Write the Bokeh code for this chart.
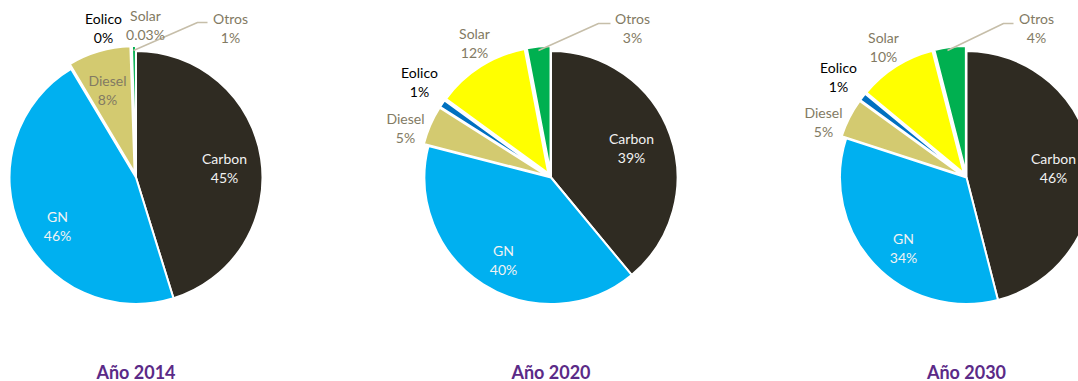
import numpy as np
from bokeh.plotting import figure
from bokeh.models import Range1d, ColumnDataSource
from bokeh.core.properties import value
from bokeh.embed import file_html
from bokeh.resources import INLINE

W, H = 1078, 381

# ---------------- data ----------------
categories = ["Carbon", "GN", "Diesel", "Eolico", "Solar", "Otros"]
years = ["Año 2014", "Año 2020", "Año 2030"]
share_2014 = [45, 46, 8, 0.0, 0.03, 0.5]
share_2020 = [39, 40, 5, 1, 12, 3]
share_2030 = [46, 34, 5, 1, 10, 4]
pct_2014 = ["45%", "46%", "8%", "0%", "0.03%", "1%"]
pct_2020 = ["39%", "40%", "5%", "1%", "12%", "3%"]
pct_2030 = ["46%", "34%", "5%", "1%", "10%", "4%"]

# ---------------- style ----------------
colors = ["#2f2b22", "#00b0f0", "#d3ca70", "#0070c0", "#ffff00", "#00b050"]
label_colors = ["#f2f2f2", "#f2f2f2", "#827a63", "#000000", "#827a63", "#827a63"]
exploded = [0, 0, 1, 1, 1, 1]
explode_px = 5
radius = 126.5
centers_px = [(135.5, 177), (550.5, 177), (966, 177)]
# label name positions (pixels, y down); percentage sits one line below
label_pos_px = [
    [(224, 158), (57, 216), (107, 80), (103, 18), (145, 15), (230, 18)],
    [(631, 138), (503, 250), (405, 118), (419, 72), (474, 33), (632, 18)],
    [(1053, 158), (903, 238), (823, 112), (838, 67), (883, 37), (1036, 18)],
]
leader_px = [
    [(133, 50), (197, 22), (207, 22)],
    [(538, 50), (598, 23), (610, 23)],
    [(947, 50), (1003, 23), (1013, 23)],
]
line_gap = 19
FONT = "Lato"

p = figure(width=W, height=H, x_range=Range1d(0, W), y_range=Range1d(0, H),
           output_backend="svg", toolbar_location=None, min_border=0,
           min_border_left=0, min_border_right=0, min_border_top=0, min_border_bottom=0)
p.axis.visible = False
p.grid.visible = False
p.outline_line_color = None
p.background_fill_color = "white"
p.border_fill_color = "white"

shares = [share_2014, share_2020, share_2030]
pcts = [pct_2014, pct_2020, pct_2030]

for k in range(3):
    vals = np.array(shares[k], dtype=float)
    frac = vals / vals.sum()
    c1 = np.cumsum(frac)
    c0 = c1 - frac
    start = np.pi / 2 - 2 * np.pi * c1
    end = np.pi / 2 - 2 * np.pi * c0
    mid = (start + end) / 2
    cx, cy_px = centers_px[k]
    cy = H - cy_px
    xs = cx + explode_px * np.array(exploded) * np.cos(mid)
    ys = cy + explode_px * np.array(exploded) * np.sin(mid)
    keep = frac > 0
    src = ColumnDataSource(dict(x=xs[keep], y=ys[keep], start=start[keep], end=end[keep],
                                color=[c for c, kk in zip(colors, keep) if kk]))
    p.wedge(x="x", y="y", radius=radius, start_angle="start", end_angle="end",
            direction="anticlock", fill_color="color", line_color="white",
            line_width=2, source=src)

    # leader line for "Otros"
    lx = [pt[0] for pt in leader_px[k]]
    ly = [H - pt[1] for pt in leader_px[k]]
    p.line(lx, ly, line_color="#c6bea9", line_width=1.5)

    pos = label_pos_px[k]
    tsrc = ColumnDataSource(dict(
        x=[q[0] for q in pos],
        y=[H - q[1] for q in pos],
        y2=[H - q[1] - line_gap for q in pos],
        name=categories, pct=pcts[k], col=label_colors))
    p.text(x="x", y="y", text="name", text_color="col", text_font=value(FONT),
           text_font_size="14px", text_align="center", text_baseline="middle", source=tsrc)
    p.text(x="x", y="y2", text="pct", text_color="col", text_font=value(FONT),
           text_font_size="14px", text_align="center", text_baseline="middle", source=tsrc)

    p.text(x=[cx], y=[H - 371], text=[years[k]], text_color="#5b2a87",
           text_font=value(FONT), text_font_style="bold", text_font_size="18px",
           text_align="center", text_baseline="middle")

open("out.html", "w").write(file_html(p, INLINE))
